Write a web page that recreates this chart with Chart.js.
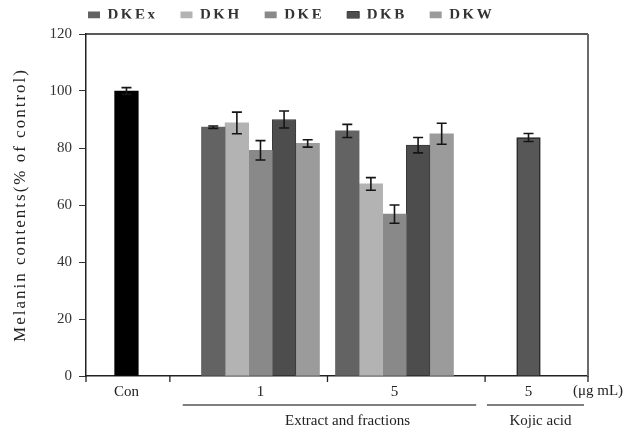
<!DOCTYPE html>
<html>
<head>
<meta charset="utf-8">
<script src="https://cdn.jsdelivr.net/npm/chart.js@4.4.1/dist/chart.umd.min.js"></script>
<style>
  html, body { margin: 0; padding: 0; background: #fff; }
  canvas { display: block; }
</style>
</head>
<body>
<canvas id="chart" width="634" height="430"></canvas>
<script>
// Melanin content (% of control), mean and standard deviation per bar
const categories = ['Con', '1', '5', '5'];
const seriesNames = ['DKEx', 'DKH', 'DKE', 'DKB', 'DKW'];

const dkexValues = [null, 87.3, 86.0, null];
const dkhValues  = [null, 88.8, 67.4, null];
const dkeValues  = [null, 79.2, 56.8, null];
const dkbValues  = [null, 90.0, 81.0, null];
const dkwValues  = [null, 81.6, 85.0, null];
const controlValues = [100, null, null, null];
const kojicValues   = [null, null, null, 83.7];

const dkexErrors = [null, 0.4, 2.3, null];
const dkhErrors  = [null, 3.8, 2.2, null];
const dkeErrors  = [null, 3.4, 3.2, null];
const dkbErrors  = [null, 3.0, 2.7, null];
const dkwErrors  = [null, 1.3, 3.7, null];
const controlErrors = [1.2, null, null, null];
const kojicErrors   = [null, null, null, 1.4];

const yTicks = [0, 20, 40, 60, 80, 100, 120];
const unitLabel = '(\u03bcg mL)';
const groupLabels = ['Extract and fractions', 'Kojic acid'];
const groupRanges = [[1, 2], [3, 3]];

// ---- styling ----
const serif = "'Liberation Serif', 'Times New Roman', serif";
const seriesValues = [dkexValues, dkhValues, dkeValues, dkbValues, dkwValues];
const seriesErrors = [dkexErrors, dkhErrors, dkeErrors, dkbErrors, dkwErrors];
const seriesColors = ['#636363', '#b3b3b3', '#898989', '#4d4d4d', '#9b9b9b'];
const seriesBorders = ['#636363', '#b3b3b3', '#898989', '#3a3a3a', '#9b9b9b'];
const groupPads = [[0.58, 0.61], [0.31, 0.414]];
const groupTextShift = [18, 5];
const LEGEND_X = 88, LEGEND_MID_Y = 15, LEGEND_FONT = 15;

const toPoints = vals => vals.map((v, i) => ({ x: i, y: v }));

const datasets = seriesNames.map((name, k) => ({
  label: name,
  data: toPoints(seriesValues[k]),
  errorBars: seriesErrors[k],
  backgroundColor: seriesColors[k],
  borderColor: seriesBorders[k],
  borderWidth: k === 3 ? 1 : 0
}));
datasets.push({
  label: 'Con', data: toPoints(controlValues), errorBars: controlErrors,
  backgroundColor: '#000000', borderWidth: 0, inLegend: false
});
datasets.push({
  label: 'Kojic acid', data: toPoints(kojicValues), errorBars: kojicErrors,
  backgroundColor: '#575757', borderColor: '#262626', borderWidth: 1.5, inLegend: false
});

// Applies canvas letter spacing while a given draw method runs
function spaced(obj, method, spacing) {
  const flag = '__spaced_' + method;
  if (obj[flag]) return;
  const original = obj[method];
  obj[method] = function (...args) {
    const ctx = this.ctx;
    const prev = ctx.letterSpacing;
    ctx.letterSpacing = spacing;
    try { return original.apply(this, args); }
    finally { ctx.letterSpacing = prev; }
  };
  obj[flag] = true;
}

const legendPlacement = {
  id: 'legendPlacement',
  afterLayout(chart) {
    const lg = chart.legend;
    if (!lg) return;
    const pad = lg.options.labels.padding;
    const w = lg.width, h = lg.height;
    lg.left = LEGEND_X - pad;
    lg.right = lg.left + w + 200;
    lg.top = LEGEND_MID_Y - LEGEND_FONT / 2 - pad;
    lg.bottom = lg.top + h;
  },
  beforeDraw(chart) {
    if (chart.legend) spaced(chart.legend, 'draw', '2.5px');
    if (chart.scales.y) spaced(chart.scales.y, 'drawTitle', '2px');
  }
};

const errorBars = {
  id: 'errorBars',
  afterDatasetsDraw(chart) {
    const { ctx, scales: { y } } = chart;
    ctx.save();
    ctx.strokeStyle = '#151515';
    ctx.lineWidth = 1.6;
    chart.data.datasets.forEach((ds, di) => {
      const meta = chart.getDatasetMeta(di);
      meta.data.forEach((el, i) => {
        const v = ds.data[i].y, e = ds.errorBars[i];
        if (v == null || e == null) return;
        const { x } = el.getProps(['x'], true);
        const top = y.getPixelForValue(v + e), bot = y.getPixelForValue(v - e);
        ctx.beginPath();
        ctx.moveTo(x, top); ctx.lineTo(x, bot);
        ctx.moveTo(x - 5, top); ctx.lineTo(x + 5, top);
        ctx.moveTo(x - 5, bot); ctx.lineTo(x + 5, bot);
        ctx.stroke();
      });
    });
    ctx.restore();
  }
};

const axisNotes = {
  id: 'axisNotes',
  afterDraw(chart) {
    const { ctx, chartArea: a, scales: { x } } = chart;
    ctx.save();
    // frame: top and right edges of the plot box
    ctx.strokeStyle = '#222';
    ctx.lineWidth = 1.5;
    ctx.beginPath(); ctx.moveTo(a.left, a.top); ctx.lineTo(a.right, a.top); ctx.stroke();
    ctx.strokeStyle = '#6a6a6a';
    ctx.lineWidth = 2;
    ctx.beginPath(); ctx.moveTo(a.right, a.top); ctx.lineTo(a.right, a.bottom); ctx.stroke();

    // tick marks between the category groups, midway across each gap
    const ext = categories.map(() => [Infinity, -Infinity]);
    chart.data.datasets.forEach((ds, di) => {
      chart.getDatasetMeta(di).data.forEach((el, i) => {
        if (ds.data[i].y == null) return;
        const p = el.getProps(['x', 'width'], true);
        ext[i][0] = Math.min(ext[i][0], p.x - p.width / 2);
        ext[i][1] = Math.max(ext[i][1], p.x + p.width / 2);
      });
    });
    const marks = [a.left];
    for (let i = 0; i < ext.length - 1; i++) marks.push((ext[i][1] + ext[i + 1][0]) / 2);
    marks.push(a.right);
    ctx.strokeStyle = '#222';
    ctx.lineWidth = 1.3;
    ctx.beginPath();
    marks.forEach(m => { ctx.moveTo(m, a.bottom); ctx.lineTo(m, a.bottom + 6); });
    ctx.stroke();

    // unit label at the end of the axis
    ctx.fillStyle = '#222';
    ctx.font = '15px ' + serif;
    ctx.textAlign = 'center';
    ctx.textBaseline = 'middle';
    ctx.fillText(unitLabel, a.right + 10, a.bottom + 15);

    // group underlines and captions
    ctx.strokeStyle = '#555';
    ctx.lineWidth = 1.5;
    groupRanges.forEach(([from, to], g) => {
      const x0 = x.getPixelForValue(from - groupPads[g][0]);
      const x1 = x.getPixelForValue(to + groupPads[g][1]);
      const ly = a.bottom + 29;
      ctx.beginPath(); ctx.moveTo(x0, ly); ctx.lineTo(x1, ly); ctx.stroke();
      ctx.fillText(groupLabels[g], (x0 + x1) / 2 + groupTextShift[g], a.bottom + 45);
    });
    ctx.restore();
  }
};

new Chart(document.getElementById('chart'), {
  type: 'bar',
  data: { datasets },
  options: {
    responsive: false,
    animation: false,
    devicePixelRatio: 1,
    layout: { padding: { left: 0, right: 46, top: 0, bottom: 0 } },
    datasets: { bar: { barThickness: 23.6, skipNull: true, grouped: true } },
    plugins: {
      tooltip: { enabled: false },
      legend: {
        position: 'top',
        align: 'start',
        maxHeight: 34,
        labels: {
          boxWidth: 12,
          boxHeight: 7,
          padding: 23,
          color: '#333',
          font: { family: serif, size: LEGEND_FONT, weight: 'bold' },
          filter: (item, data) => data.datasets[item.datasetIndex].inLegend !== false
        }
      }
    },
    scales: {
      x: {
        type: 'linear',
        offset: false,
        min: -0.302,
        max: 3.444,
        afterBuildTicks: s => { s.ticks = categories.map((c, i) => ({ value: i })); },
        afterFit: s => { s.height = 54; },
        ticks: {
          autoSkip: false,
          maxRotation: 0,
          padding: 1,
          color: '#222',
          font: { family: serif, size: 15 },
          callback: v => categories[v]
        },
        grid: { offset: false, drawOnChartArea: false, color: 'transparent', tickLength: 6 },
        border: { display: true, color: '#222', width: 1.5 }
      },
      y: {
        min: 0,
        max: 120,
        afterBuildTicks: s => { s.ticks = yTicks.map(v => ({ value: v })); },
        afterFit: s => { s.width = 86; },
        ticks: { color: '#333', padding: 7, font: { family: serif, size: 15 } },
        grid: { drawOnChartArea: false, color: '#333', tickLength: 7, lineWidth: 1 },
        border: { display: true, color: '#222', width: 1.5 },
        title: {
          display: true,
          text: 'Melanin contents(% of control)',
          color: '#222',
          padding: { top: 10, bottom: 0 },
          font: { family: serif, size: 17 }
        }
      }
    }
  },
  plugins: [legendPlacement, errorBars, axisNotes]
});
</script>
</body>
</html>
